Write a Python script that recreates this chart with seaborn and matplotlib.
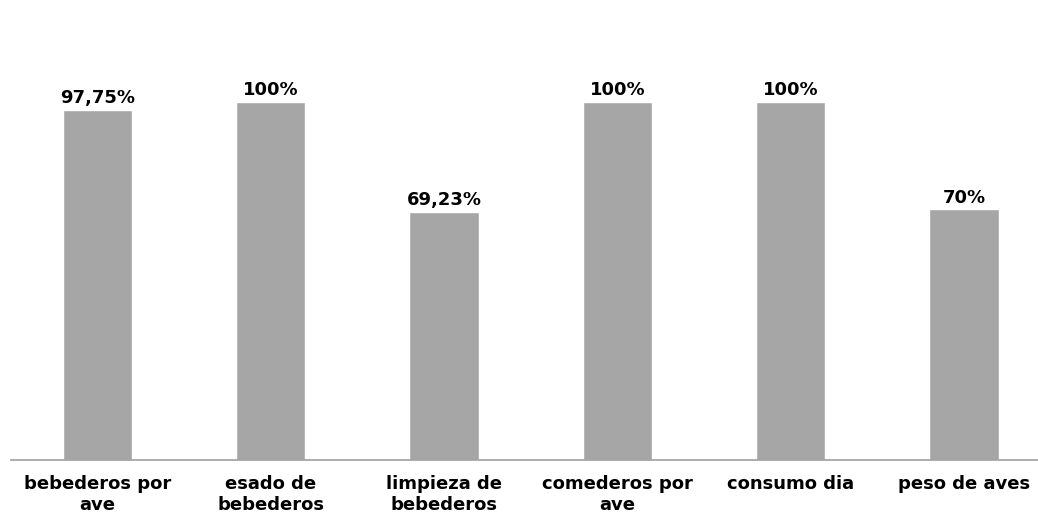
import matplotlib
matplotlib.use("Agg")
import matplotlib.pyplot as plt
import seaborn as sns
import pandas as pd

categories = ["bebederos por\nave", "esado de\nbebederos", "limpieza de\nbebederos",
              "comederos por\nave", "consumo dia", "peso de aves"]
values = [97.75, 100, 69.23, 100, 100, 70]
value_labels = ["97,75%", "100%", "69,23%", "100%", "100%", "70%"]

sns.set_theme(style="white")
plt.rcParams["font.family"] = ["DejaVu Sans"]

df = pd.DataFrame({"categoria": categories, "valor": values})

fig = plt.figure(figsize=(10.38, 5.25), dpi=100)
ax = fig.add_axes([10.8 / 1038, 65 / 525, 1040 / 1038, 1 - 65 / 525 - 65 / 525])
sns.barplot(data=df, x="categoria", y="valor", color="#A6A6A6", saturation=1,
            width=0.40, ax=ax)
ax.set_xlim(-0.5, 5.5)
ax.set_ylim(0, 110)
# keep the baseline at the right height
ax.set_position([10.8 / 1038, 1 - 460 / 525, 1040 / 1038, 358 * 1.1 / 525])

for patch, lab in zip(ax.patches, value_labels):
    ax.annotate(lab, (patch.get_x() + patch.get_width() / 2, patch.get_height()),
                xytext=(0, 2), textcoords="offset points", ha="center", va="bottom",
                fontsize=13, fontweight="bold", color="black")

ax.set_xlabel("")
ax.set_ylabel("")
ax.set_yticks([])
ax.tick_params(axis="x", length=0, pad=11, labelsize=13)
for t in ax.get_xticklabels():
    t.set_fontweight("bold")
    t.set_color("black")
for s in ["top", "right", "left"]:
    ax.spines[s].set_visible(False)
ax.spines["bottom"].set_color("#A0A0A0")
ax.spines["bottom"].set_linewidth(1.2)

fig.savefig("out.png", dpi=100, facecolor="white")
